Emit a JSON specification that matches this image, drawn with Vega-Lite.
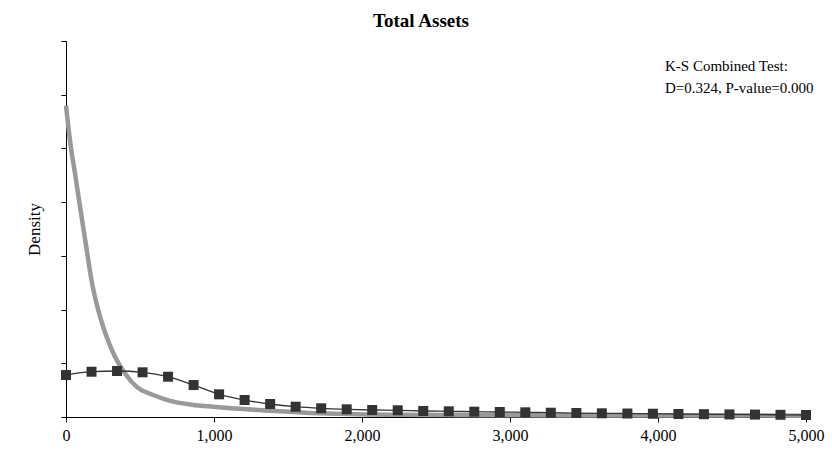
{
  "$schema": "https://vega.github.io/schema/vega-lite/v6.json",
  "autosize": {"type": "none"},
  "padding": {"left": 66, "top": 41, "right": 26, "bottom": 43},
  "width": 740,
  "height": 376,
  "background": "white",
  "title": {
    "text": "Total Assets",
    "font": "Liberation Serif",
    "fontSize": 19,
    "fontWeight": "bold",
    "color": "black",
    "anchor": "middle",
    "frame": "group",
    "dx": -15,
    "offset": 10
  },
  "config": {
    "view": {"stroke": null},
    "axis": {
      "domainColor": "black",
      "tickColor": "black",
      "domainWidth": 1,
      "tickWidth": 1,
      "tickSize": 5,
      "grid": false,
      "labelFont": "Liberation Serif",
      "labelFontSize": 16,
      "labelColor": "black",
      "labelFlush": false,
      "titleFont": "Liberation Serif",
      "titleFontSize": 17,
      "titleFontWeight": "normal",
      "titleColor": "black"
    }
  },
  "datasets": {
    "fitted": [
      {"x": 0, "d": 5.8},
      {"x": 34, "d": 5.0},
      {"x": 60, "d": 4.55},
      {"x": 90, "d": 4.0},
      {"x": 140, "d": 3.11},
      {"x": 174, "d": 2.52},
      {"x": 218, "d": 1.99},
      {"x": 275, "d": 1.49},
      {"x": 331, "d": 1.12},
      {"x": 399, "d": 0.81},
      {"x": 478, "d": 0.56},
      {"x": 590, "d": 0.41},
      {"x": 703, "d": 0.3},
      {"x": 850, "d": 0.23},
      {"x": 995, "d": 0.19},
      {"x": 1378, "d": 0.117},
      {"x": 1716, "d": 0.069},
      {"x": 2277, "d": 0.04},
      {"x": 3000, "d": 0.033},
      {"x": 4000, "d": 0.028},
      {"x": 5000, "d": 0.025}
    ],
    "empirical": [
      {"x": 0, "d": 0.781},
      {"x": 172.41, "d": 0.843},
      {"x": 344.83, "d": 0.856},
      {"x": 517.24, "d": 0.832},
      {"x": 689.66, "d": 0.75},
      {"x": 862.07, "d": 0.595},
      {"x": 1034.48, "d": 0.422},
      {"x": 1206.9, "d": 0.316},
      {"x": 1379.31, "d": 0.242},
      {"x": 1551.72, "d": 0.192},
      {"x": 1724.14, "d": 0.162},
      {"x": 1896.55, "d": 0.143},
      {"x": 2068.97, "d": 0.13},
      {"x": 2241.38, "d": 0.125},
      {"x": 2413.79, "d": 0.112},
      {"x": 2586.21, "d": 0.106},
      {"x": 2758.62, "d": 0.099},
      {"x": 2931.03, "d": 0.093},
      {"x": 3103.45, "d": 0.087},
      {"x": 3275.86, "d": 0.08},
      {"x": 3448.28, "d": 0.074},
      {"x": 3620.69, "d": 0.069},
      {"x": 3793.1, "d": 0.065},
      {"x": 3965.52, "d": 0.061},
      {"x": 4137.93, "d": 0.056},
      {"x": 4310.34, "d": 0.052},
      {"x": 4482.76, "d": 0.048},
      {"x": 4655.17, "d": 0.045},
      {"x": 4827.59, "d": 0.041},
      {"x": 5000, "d": 0.037}
    ],
    "notes": [
      {"x": 4047, "d": 6.53, "label": "K-S Combined Test:"},
      {"x": 4047, "d": 6.12, "label": "D=0.324, P-value=0.000"}
    ]
  },
  "encoding": {
    "x": {
      "field": "x",
      "type": "quantitative",
      "scale": {"domain": [0, 5000], "nice": false, "zero": false},
      "axis": {"values": [0, 1000, 2000, 3000, 4000, 5000], "format": ",.0f", "title": null, "labelPadding": 5}
    },
    "y": {
      "field": "d",
      "type": "quantitative",
      "scale": {"domain": [0, 7], "nice": false},
      "axis": {"values": [0, 1, 2, 3, 4, 5, 6, 7], "labels": false, "title": "Density", "titlePadding": 17}
    }
  },
  "layer": [
    {
      "data": {"name": "fitted"},
      "mark": {"type": "line", "color": "#999999", "strokeWidth": 4.5, "interpolate": "monotone"}
    },
    {
      "data": {"name": "empirical"},
      "mark": {
        "type": "line",
        "color": "#333333",
        "strokeWidth": 1.3,
        "interpolate": "monotone",
        "point": {"shape": "square", "size": 100, "filled": true, "color": "#333333", "opacity": 1}
      }
    },
    {
      "data": {"name": "notes"},
      "mark": {"type": "text", "align": "left", "baseline": "middle", "font": "Liberation Serif", "fontSize": 15, "color": "black"},
      "encoding": {"text": {"field": "label"}}
    }
  ]
}
